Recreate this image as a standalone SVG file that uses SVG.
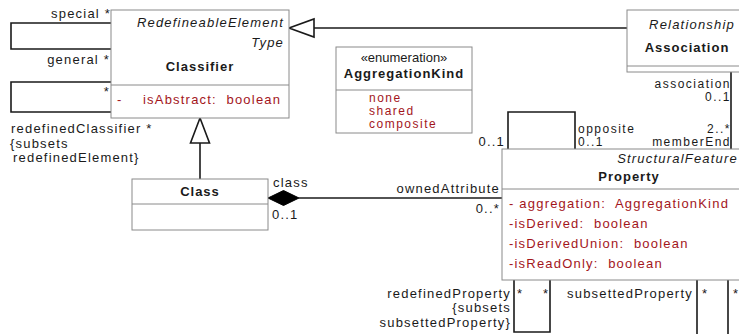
<svg xmlns="http://www.w3.org/2000/svg" width="739" height="334" viewBox="0 0 739 334">
<style>
.box{fill:#fff;stroke:#8a8a8a;stroke-width:1}
.div{stroke:#8a8a8a;stroke-width:1}
.t{font-family:"Liberation Sans",Arial,sans-serif;font-size:13px;fill:#1a1a1a;letter-spacing:1.2px}
.s{font-size:12px;letter-spacing:1.5px}
.it{font-style:italic}
.b{font-weight:bold;letter-spacing:1px}
.attr{fill:#a3161c}
.e{text-anchor:end}
.m{text-anchor:middle}
.c{fill:none;stroke:#1a1a1a;stroke-width:1.6}
</style>
<rect width="739" height="334" fill="#fff"/>
<g id="connectors">
<path class="c" d="M112,23 H11 V49 H112"/>
<path class="c" d="M112,82 H11 V112 H112"/>
<path class="c" d="M627,28 H314"/>
<polygon points="289,28 314,19 314,37" fill="#fff" stroke="#1a1a1a" stroke-width="1.6"/>
<path class="c" d="M200,179 V143"/>
<polygon points="200,118 190.5,143 209.5,143" fill="#fff" stroke="#1a1a1a" stroke-width="1.6"/>
<path class="c" d="M299,198 H502"/>
<polygon points="268,198 283.5,190.5 299,198 283.5,205.5" fill="#000" stroke="#000" stroke-width="1"/>
<path class="c" d="M508,149 V112 H575 V149"/>
<path class="c" d="M731,72 V149"/>
<path class="c" d="M514,280 V332 H550 V280"/>
<path class="c" d="M697,280 V340 M728,280 V340"/>
</g>
<g id="Classifier">
<rect class="box" x="111" y="10" width="178" height="108"/>
<line class="div" x1="111" y1="85" x2="289" y2="85"/>
<text class="t it e" x="284" y="27">RedefineableElement</text>
<text class="t it e" x="284" y="47">Type</text>
<text class="t b m" x="200" y="71">Classifier</text>
<text class="t attr" x="117" y="104">-</text>
<text class="t attr" x="143" y="104" xml:space="preserve">isAbstract:  boolean</text>
</g>
<g id="AggregationKind">
<rect class="box" x="336" y="47" width="136" height="86"/>
<line class="div" x1="336" y1="90" x2="472" y2="90"/>
<text class="t m" x="404" y="62" style="letter-spacing:0">«enumeration»</text>
<text class="t b m" x="404" y="78">AggregationKind</text>
<text class="t s attr" x="369" y="102">none</text>
<text class="t s attr" x="369" y="115">shared</text>
<text class="t s attr" x="369" y="128">composite</text>
</g>
<g id="Association">
<rect class="box" x="627" y="10" width="120" height="62"/>
<line class="div" x1="627" y1="66" x2="747" y2="66"/>
<text class="t it e" x="735" y="29">Relationship</text>
<text class="t b m" x="687" y="52">Association</text>
</g>
<g id="Class">
<rect class="box" x="132" y="179" width="136" height="51"/>
<line class="div" x1="132" y1="204" x2="268" y2="204"/>
<text class="t b m" x="200" y="196">Class</text>
</g>
<g id="Property">
<rect class="box" x="502" y="149" width="245" height="131"/>
<line class="div" x1="502" y1="189" x2="747" y2="189"/>
<text class="t it e" x="738" y="163">StructuralFeature</text>
<text class="t b m" x="629" y="181">Property</text>
<text class="t attr" x="509" y="208" xml:space="preserve">- aggregation:  AggregationKind</text>
<text class="t attr" x="509" y="228" xml:space="preserve">-isDerived:  boolean</text>
<text class="t attr" x="509" y="248" xml:space="preserve">-isDerivedUnion:  boolean</text>
<text class="t attr" x="509" y="268" xml:space="preserve">-isReadOnly:  boolean</text>
</g>
<g id="labels">
<text class="t e" x="111" y="18">special *</text>
<text class="t e" x="110" y="64">general *</text>
<text class="t e" x="110" y="96">*</text>
<text class="t" x="11" y="133">redefinedClassifier *</text>
<text class="t" x="10" y="148">{subsets</text>
<text class="t" x="13" y="162">redefinedElement}</text>
<text class="t s e" x="731" y="88">association</text>
<text class="t s e" x="731" y="101">0..1</text>
<text class="t s e" x="731" y="133">2..*</text>
<text class="t s e" x="731" y="146">memberEnd</text>
<text class="t s" x="578" y="133">opposite</text>
<text class="t s" x="578" y="146">0..1</text>
<text class="t e" x="505" y="146">0..1</text>
<text class="t" x="273" y="187">class</text>
<text class="t" x="272" y="219">0..1</text>
<text class="t e" x="500" y="193">ownedAttribute</text>
<text class="t e" x="500" y="213">0..*</text>
<text class="t e" x="511" y="298">redefinedProperty</text>
<text class="t e" x="511" y="312">{subsets</text>
<text class="t e" x="511" y="327">subsettedProperty}</text>
<text class="t" x="517" y="298">*</text>
<text class="t" x="543" y="298">*</text>
<text class="t" x="567" y="298">subsettedProperty</text>
<text class="t" x="702" y="298">*</text>
<text class="t" x="733" y="298">*</text>
</g>
</svg>
